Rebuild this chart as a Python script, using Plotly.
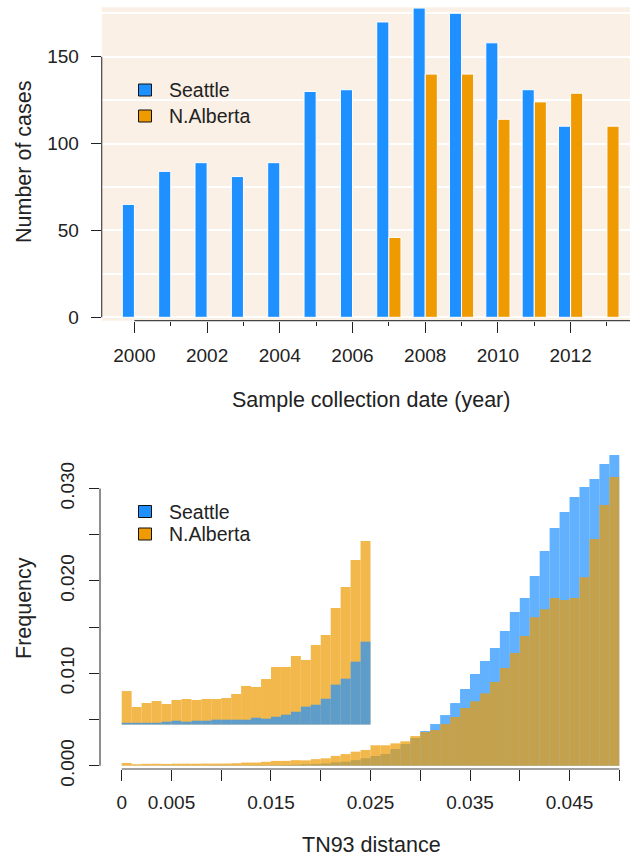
import numpy as np
import plotly.graph_objects as go

# ---- data -------------------------------------------------------------
years = list(range(2000, 2014))
seattle_cases = [65, 84, 89, 81, 89, 130, 131, 170, 178, 175, 158, 131, 110, None]
alberta_cases = [None, None, None, None, None, None, None, 46, 140, 140, 114, 124, 129, 110]

bin_width = 0.001
# TN93 distance histogram, 50 bins of width 0.001 on [0, 0.05]
seattle_freq = [0.00002, 0.00002, 0.00002, 0.00002, 0.00003, 0.00003, 0.00003, 0.00003,
                0.00003, 0.00004, 0.00004, 0.00004, 0.00004, 0.00005, 0.00005, 0.00006,
                0.00007, 0.00010, 0.00015, 0.00018, 0.00024, 0.00037, 0.00043, 0.00060,
                0.00080, 0.00105, 0.00127, 0.00181, 0.00235, 0.00300, 0.00375, 0.00451,
                0.00548, 0.00678, 0.00830, 0.00992, 0.01133, 0.01273, 0.01458, 0.01663,
                0.01815, 0.02053, 0.02323, 0.02572, 0.02746, 0.02908, 0.03016, 0.03103,
                0.03265, 0.03363]
alberta_freq = [0.00030, 0.00016, 0.00020, 0.00021, 0.00019, 0.00022, 0.00022, 0.00022,
                0.00023, 0.00023, 0.00024, 0.00027, 0.00034, 0.00034, 0.00042, 0.00052,
                0.00052, 0.00060, 0.00058, 0.00071, 0.00080, 0.00106, 0.00126, 0.00152,
                0.00170, 0.00221, 0.00221, 0.00242, 0.00264, 0.00321, 0.00365, 0.00386,
                0.00451, 0.00527, 0.00624, 0.00697, 0.00783, 0.00906, 0.01057, 0.01220,
                0.01404, 0.01606, 0.01692, 0.01815, 0.01793, 0.01815, 0.02039, 0.02453,
                0.02821, 0.03124]

# magnified view of the first 25 bins, drawn on a raised baseline
inset_base = 0.00445
inset_seattle_top = [0.00465, 0.00465, 0.00465, 0.00465, 0.00476, 0.00487, 0.00476, 0.00487,
                     0.00487, 0.00498, 0.00498, 0.00498, 0.00498, 0.00519, 0.00509, 0.00530,
                     0.00552, 0.00584, 0.00639, 0.00660, 0.00725, 0.00877, 0.00942, 0.01126,
                     0.01342]
inset_alberta_top = [0.00808, 0.00635, 0.00679, 0.00700, 0.00668, 0.00711, 0.00722, 0.00711,
                     0.00722, 0.00722, 0.00733, 0.00776, 0.00863, 0.00852, 0.00938, 0.01068,
                     0.01068, 0.01187, 0.01144, 0.01306, 0.01414, 0.01707, 0.01934, 0.02226,
                     0.02432]

year_ticks = [2000, 2002, 2004, 2006, 2008, 2010, 2012]
count_ticks = [0, 50, 100, 150]
dist_ticks = [0, 0.005, 0.01, 0.015, 0.02, 0.025, 0.03, 0.035, 0.04, 0.045, 0.05]
dist_labels = ["0", "0.005", "", "0.015", "", "0.025", "", "0.035", "", "0.045", ""]
freq_ticks = [0, 0.01, 0.02, 0.03]
freq_labels = ["0.000", "0.010", "0.020", "0.030"]

# ---- styling ----------------------------------------------------------
W, H = 630, 858
BLUE = "#1E90FF"
ORANGE = "#EE9A00"
BLUE_A = "rgba(30,144,255,0.7)"
ORANGE_A = "rgba(238,154,0,0.7)"
LINEN = "#FAF0E6"
INK = "#222222"
AXIS = "#444444"
FONT = "Liberation Sans, Arial, Helvetica, sans-serif"


def fx(x):
    return x / W


def fy(y):
    return 1 - y / H


fig = go.Figure()

# ---- top panel: yearly case counts -----------------------------------
bar_w = 1 / 3
fig.add_trace(go.Bar(x=years, y=seattle_cases, offset=-bar_w, width=bar_w,
                     marker=dict(color=BLUE, line=dict(color="white", width=1)),
                     xaxis="x", yaxis="y", showlegend=False))
fig.add_trace(go.Bar(x=years, y=alberta_cases, offset=0, width=bar_w,
                     marker=dict(color=ORANGE, line=dict(color="white", width=1)),
                     xaxis="x", yaxis="y", showlegend=False))

# ---- bottom panel: distance histograms --------------------------------
edges = np.round(np.arange(len(seattle_freq) + 1) * bin_width, 6)
centers = (edges[:-1] + edges[1:]) / 2
fig.add_trace(go.Bar(x=centers, y=seattle_freq, width=bin_width,
                     marker=dict(color=BLUE_A, line=dict(width=0)),
                     xaxis="x2", yaxis="y2", showlegend=False))
fig.add_trace(go.Bar(x=centers, y=alberta_freq, width=bin_width,
                     marker=dict(color=ORANGE_A, line=dict(width=0)),
                     xaxis="x2", yaxis="y2", showlegend=False))

inset_centers = centers[:len(inset_alberta_top)]
fig.add_trace(go.Bar(x=inset_centers, y=[t - inset_base for t in inset_alberta_top],
                     base=inset_base, width=bin_width,
                     marker=dict(color=ORANGE_A, line=dict(width=0)),
                     xaxis="x2", yaxis="y2", showlegend=False))
fig.add_trace(go.Bar(x=inset_centers, y=[t - inset_base for t in inset_seattle_top],
                     base=inset_base, width=bin_width,
                     marker=dict(color=BLUE_A, line=dict(width=0)),
                     xaxis="x2", yaxis="y2", showlegend=False))

tickfont = dict(family=FONT, size=19, color=INK)

top_x_range = [1999.10, 2013.634]
top_y_range = [-1.957, 178.44]
bot_x_range = [-0.00218, 0.051075]
bot_y_range = [-0.000357, 0.03449]

fig.update_layout(
    template="none",
    width=W, height=H, autosize=False,
    margin=dict(l=0, r=0, t=0, b=0, pad=0),
    paper_bgcolor="white", plot_bgcolor="white",
    barmode="overlay",
    font=dict(family=FONT, color=INK),
    xaxis=dict(domain=[fx(101.7), 1], range=top_x_range, anchor="y", automargin=False,
               tickmode="array", tickvals=year_ticks, ticktext=[str(v) for v in year_ticks],
               ticks="outside", ticklen=11, tickwidth=1, tickcolor=INK,
               ticklabelstandoff=6, tickfont=tickfont,
               minor=dict(tickmode="array", tickvals=[2001, 2003, 2005, 2007, 2009, 2011, 2013],
                          ticks="outside", ticklen=4, tickwidth=1, tickcolor=INK),
               showgrid=False, zeroline=False, showline=False),
    yaxis=dict(domain=[fy(320.7), fy(7.3)], range=top_y_range, anchor="x", automargin=False,
               tickmode="array", tickvals=count_ticks, ticktext=[str(v) for v in count_ticks],
               ticks="outside", ticklen=10, tickwidth=1, tickcolor=INK,
               ticklabelstandoff=8, tickfont=tickfont,
               showgrid=True, gridcolor="white", gridwidth=2,
               minor=dict(tickmode="array", tickvals=[25, 75, 125, 175], ticks="",
                          showgrid=True, gridcolor="white", gridwidth=2),
               zeroline=False, showline=False),
    xaxis2=dict(domain=[fx(100), 1], range=bot_x_range, anchor="y2", automargin=False,
                tickmode="array", tickvals=dist_ticks, ticktext=dist_labels,
                ticks="outside", ticklen=11, tickwidth=1, tickcolor=INK,
                ticklabelstandoff=5, tickfont=tickfont,
                showgrid=False, zeroline=False, showline=False),
    yaxis2=dict(domain=[fy(769), fy(447)], range=bot_y_range, anchor="x2", automargin=False,
                tickmode="array", tickvals=freq_ticks, ticktext=freq_labels,
                tickangle=-90,
                ticks="outside", ticklen=10, tickwidth=1, tickcolor=INK,
                ticklabelstandoff=7, tickfont=tickfont,
                minor=dict(tickmode="array", tickvals=[0.005, 0.015, 0.025],
                           ticks="outside", ticklen=10, tickwidth=1, tickcolor=INK),
                showgrid=False, zeroline=False, showline=False),
)

shapes = [
    # linen panel background
    dict(type="rect", xref="x domain", yref="y domain", x0=0, x1=1, y0=0, y1=1,
         fillcolor=LINEN, line=dict(width=0), layer="below"),
    # axis lines spanning the labelled ranges
    dict(type="line", xref="x domain", yref="y", x0=0, x1=0, y0=0, y1=150,
         line=dict(color=AXIS, width=1.2)),
    dict(type="line", xref="x", yref="y domain", x0=2000, x1=top_x_range[1], y0=0, y1=0,
         line=dict(color=AXIS, width=1.2)),
    dict(type="line", xref="x2 domain", yref="y2", x0=0, x1=0, y0=0, y1=0.03,
         line=dict(color=AXIS, width=1.2)),
    dict(type="line", xref="x2", yref="y2 domain", x0=0, x1=0.05, y0=0, y1=0,
         line=dict(color=AXIS, width=1.2)),
]

annotations = []


def legend(cy_first, gap):
    for i, (name, col) in enumerate([("Seattle", BLUE), ("N.Alberta", ORANGE)]):
        cy = cy_first + i * gap
        shapes.append(dict(type="rect", xref="paper", yref="paper",
                           x0=fx(138.5), x1=fx(151.5), y0=fy(cy + 6), y1=fy(cy - 6),
                           fillcolor=col, line=dict(color="#111111", width=1)))
        annotations.append(dict(text=name, xref="paper", yref="paper",
                                x=fx(167), y=fy(cy), xanchor="left", yanchor="middle",
                                showarrow=False, font=dict(family=FONT, size=19.5, color=INK)))


legend(90, 26)
legend(511.5, 22.5)

titlefont = dict(family=FONT, size=21.5, color=INK)
annotations += [
    dict(text="Sample collection date (year)", xref="paper", yref="paper",
         x=fx(371), y=fy(400), xanchor="center", yanchor="middle",
         showarrow=False, font=titlefont),
    dict(text="Number of cases", xref="paper", yref="paper", textangle=-90,
         x=fx(24), y=fy(162), xanchor="center", yanchor="middle",
         showarrow=False, font=titlefont),
    dict(text="TN93 distance", xref="paper", yref="paper",
         x=fx(371), y=fy(845), xanchor="center", yanchor="middle",
         showarrow=False, font=titlefont),
    dict(text="Frequency", xref="paper", yref="paper", textangle=-90,
         x=fx(24), y=fy(608), xanchor="center", yanchor="middle",
         showarrow=False, font=titlefont),
]

fig.update_layout(shapes=shapes, annotations=annotations)
fig.write_html("out.html")
